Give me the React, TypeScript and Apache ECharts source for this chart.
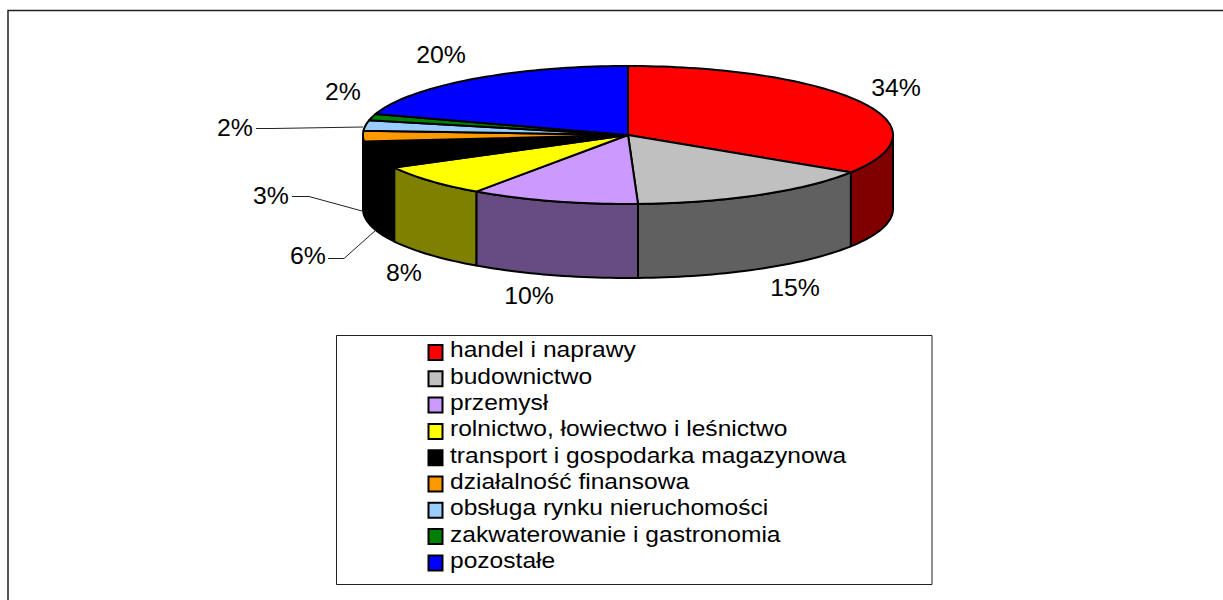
import React, { useEffect, useRef } from "react";
import * as echarts from "echarts";

const categories = [
  "handel i naprawy",
  "budownictwo",
  "przemysł",
  "rolnictwo, łowiectwo i leśnictwo",
  "transport i gospodarka magazynowa",
  "działalność finansowa",
  "obsługa rynku nieruchomości",
  "zakwaterowanie i gastronomia",
  "pozostałe",
];
const shares = [34.1, 15.3, 10.3, 7.5, 6.3, 2.5, 2.4, 1.5, 20.1];
const topColors = ["#FF0000", "#C0C0C0", "#CC99FF", "#FFFF00", "#000000", "#FF9900", "#99CCFF", "#008000", "#0000FF"];
const wallColors = ["#800000", "#606060", "#664C80", "#808000", "#000000", "#804C00", "#4C6680", "#004000", "#000080"];

// layout of the pie, in pixels
const CX = 628;
const CY = 135;
const RX = 265;
const RY = 69;
const DEPTH = 74;
const labelCentres = [
  [896, 88], [795, 288], [529, 296], [404, 273], [308, 256], [271, 196], [235, 128], [343, 92], [441, 55],
];
const leaderLines: Record<number, number[][]> = {
  4: [[328, 258.5], [344, 258.5], [376, 230]],
  5: [[292, 196.5], [309, 196.5], [362, 211]],
  6: [[256, 128.5], [272, 128.5], [363, 127]],
};
// layout of the legend, in pixels
const LEGEND_SWATCH_X = 428.5;
const LEGEND_TEXT_X = 450;
const LEGEND_FIRST_ROW = 352.5;
const LEGEND_PITCH = 26.3;

const total = shares.reduce((a, b) => a + b, 0);
const rim = (deg: number, dy = 0) => {
  const t = (deg * Math.PI) / 180;
  return [CX + RX * Math.sin(t), CY - RY * Math.cos(t) + dy];
};
const arc = (a: number, b: number, dy = 0) => {
  const n = Math.max(2, Math.ceil(Math.abs(b - a) / 1.5));
  const pts: number[][] = [];
  for (let i = 0; i <= n; i++) pts.push(rim(a + ((b - a) * i) / n, dy));
  return pts;
};
const edge = { stroke: "#000", lineWidth: 2, lineJoin: "round" as const };

function sliceRenderer(index: number) {
  return (_params: any, api: any) => {
    const value = api.value(0) as number;
    const before = shares.slice(0, index).reduce((a, b) => a + b, 0);
    const a0 = (before / total) * 360;
    const a1 = a0 + (value / total) * 360;
    const children: any[] = [];
    const w0 = Math.max(a0, 90);
    const w1 = Math.min(a1, 270);
    if (w1 > w0) {
      children.push({
        type: "polygon",
        shape: { points: [...arc(w0, w1), ...arc(w1, w0, DEPTH)] },
        style: { fill: wallColors[index], ...edge },
      });
    }
    children.push({
      type: "polygon",
      shape: { points: [[CX, CY], ...arc(a0, a1)] },
      style: { fill: topColors[index], ...edge },
    });
    const line = leaderLines[index];
    if (line) {
      children.push({
        type: "polyline",
        shape: { points: line },
        style: { fill: "none", stroke: "#222", lineWidth: 1 },
      });
    }
    const [lx, ly] = labelCentres[index];
    children.push({
      type: "text",
      x: lx,
      y: ly,
      scaleX: 1.08,
      style: {
        text: `${Math.round(value)}%`,
        fontFamily: "Liberation Sans",
        fontSize: 23,
        fill: "#000",
        align: "center",
        verticalAlign: "middle",
      },
    });
    const rowY = LEGEND_FIRST_ROW + LEGEND_PITCH * index;
    children.push({
      type: "rect",
      shape: { x: LEGEND_SWATCH_X, y: rowY - 7.5, width: 14, height: 15 },
      style: { fill: topColors[index], stroke: "#000", lineWidth: 2 },
    });
    children.push({
      type: "text",
      x: LEGEND_TEXT_X,
      y: rowY - 2.5,
      scaleX: 1.144,
      style: {
        text: categories[index],
        fontFamily: "Liberation Sans",
        fontSize: 21.5,
        fill: "#000",
        align: "left",
        verticalAlign: "middle",
      },
    });
    return { type: "group", children };
  };
}

export default function App() {
  const ref = useRef<HTMLDivElement>(null);
  useEffect(() => {
    const chart = echarts.init(ref.current!, null, { renderer: "svg" });
    chart.setOption({
      animation: false,
      backgroundColor: "#fff",
      graphic: [
        {
          type: "polyline",
          silent: true,
          z: -1,
          shape: { points: [[8, 600], [8, 10.5], [1223, 10.5]] },
          style: { fill: "none", stroke: "#222", lineWidth: 1.5 },
        },
        {
          type: "rect",
          silent: true,
          z: -1,
          shape: { x: 336.5, y: 335.5, width: 595.5, height: 249 },
          style: { fill: "#fff", stroke: "#222", lineWidth: 1 },
        },
      ],
      series: categories.map((name, i) => ({
        type: "custom",
        name,
        coordinateSystem: "none",
        silent: true,
        itemStyle: { color: topColors[i] },
        data: [[shares[i]]],
        renderItem: sliceRenderer(i),
      })),
    });
    return () => chart.dispose();
  }, []);
  return <div ref={ref} style={{ position: "absolute", left: 0, top: 0, width: 1223, height: 600 }} />;
}
